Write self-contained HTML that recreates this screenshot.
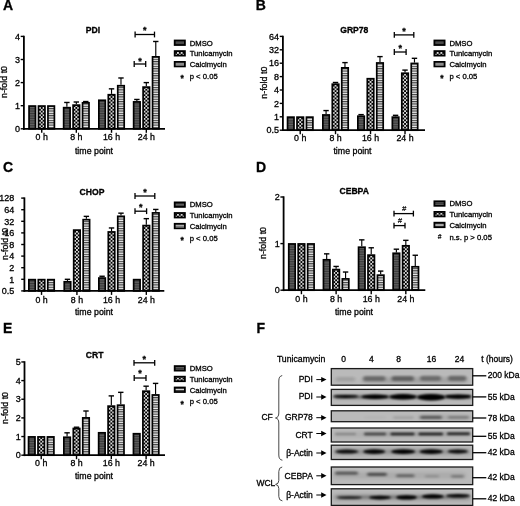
<!DOCTYPE html>
<html><head><meta charset="utf-8"><title>Figure</title>
<style>html,body{margin:0;padding:0;background:#fff;}svg{display:block;opacity:0.999;will-change:transform;}text{font-family:"Liberation Sans",sans-serif;}</style>
</head><body>
<svg width="520" height="506" viewBox="0 0 520 506">
<defs>
<pattern id="pD" width="2" height="1.7" patternUnits="userSpaceOnUse"><rect width="2" height="1.7" fill="#3a3a3a"/><rect width="2" height="0.8" fill="#636363"/></pattern>
<pattern id="pT" width="3.2" height="3.2" patternUnits="userSpaceOnUse"><rect width="3.2" height="3.2" fill="#1a1a1a"/><path d="M1.6 0 L3.2 1.6 L1.6 3.2 L0 1.6 Z" fill="#f4f4f4"/></pattern>
<pattern id="pC" width="2.35" height="2.35" patternUnits="userSpaceOnUse"><rect width="2.35" height="2.35" fill="#ececec"/><rect width="2.35" height="1.15" fill="#404040"/></pattern>
<filter id="bl" x="-20%" y="-100%" width="140%" height="300%"><feGaussianBlur stdDeviation="1.3 0.9"/></filter>
<filter id="bl2" x="-20%" y="-100%" width="140%" height="300%"><feGaussianBlur stdDeviation="1.6 1.3"/></filter>
<filter id="bl3" x="-20%" y="-200%" width="140%" height="500%"><feGaussianBlur stdDeviation="2.2 1.6"/></filter>
</defs>
<rect width="520" height="506" fill="#fff"/>
<text x="3" y="10.3" font-size="14" text-anchor="start" font-weight="bold" fill="#000" stroke="#000" stroke-width="0.3">A</text>
<text x="93" y="32.5" font-size="8.6" text-anchor="middle" font-weight="bold" fill="#000" stroke="#000" stroke-width="0.3">PDI</text>
<rect x="29.05" y="106.05" width="6.45" height="22.75" fill="url(#pD)" stroke="#000" stroke-width="1.7"/>
<pattern id="pT1" x="39.88" y="126.20" width="3.7" height="3.65" patternUnits="userSpaceOnUse"><rect width="3.7" height="3.65" fill="#000"/><rect x="1.000" y="0.975" width="1.7" height="1.7" fill="#fff"/><rect x="-0.850" y="-0.850" width="1.7" height="1.7" fill="#fff"/><rect x="2.850" y="-0.850" width="1.7" height="1.7" fill="#fff"/><rect x="-0.850" y="2.800" width="1.7" height="1.7" fill="#fff"/><rect x="2.850" y="2.800" width="1.7" height="1.7" fill="#fff"/></pattern>
<rect x="38.50" y="106.05" width="6.45" height="22.75" fill="url(#pT1)" stroke="#000" stroke-width="1.7"/>
<rect x="47.95" y="106.05" width="6.45" height="22.75" fill="url(#pC)" stroke="#000" stroke-width="1.7"/>
<line x1="66.88" y1="106.82" x2="66.88" y2="102.47" stroke="#000" stroke-width="1.15"/>
<line x1="64.17" y1="102.47" x2="69.58" y2="102.47" stroke="#000" stroke-width="1.4"/>
<rect x="63.65" y="107.67" width="6.45" height="21.13" fill="url(#pD)" stroke="#000" stroke-width="1.7"/>
<line x1="76.33" y1="104.28" x2="76.33" y2="102.00" stroke="#000" stroke-width="1.15"/>
<line x1="73.62" y1="102.00" x2="79.03" y2="102.00" stroke="#000" stroke-width="1.4"/>
<pattern id="pT2" x="74.48" y="126.20" width="3.7" height="3.65" patternUnits="userSpaceOnUse"><rect width="3.7" height="3.65" fill="#000"/><rect x="1.000" y="0.975" width="1.7" height="1.7" fill="#fff"/><rect x="-0.850" y="-0.850" width="1.7" height="1.7" fill="#fff"/><rect x="2.850" y="-0.850" width="1.7" height="1.7" fill="#fff"/><rect x="-0.850" y="2.800" width="1.7" height="1.7" fill="#fff"/><rect x="2.850" y="2.800" width="1.7" height="1.7" fill="#fff"/></pattern>
<rect x="73.10" y="105.13" width="6.45" height="23.67" fill="url(#pT2)" stroke="#000" stroke-width="1.7"/>
<line x1="85.77" y1="101.97" x2="85.77" y2="101.54" stroke="#000" stroke-width="1.15"/>
<line x1="83.07" y1="101.54" x2="88.47" y2="101.54" stroke="#000" stroke-width="1.4"/>
<rect x="82.55" y="102.82" width="6.45" height="25.98" fill="url(#pC)" stroke="#000" stroke-width="1.7"/>
<rect x="98.85" y="100.28" width="6.45" height="28.52" fill="url(#pD)" stroke="#000" stroke-width="1.7"/>
<line x1="111.53" y1="93.88" x2="111.53" y2="88.84" stroke="#000" stroke-width="1.15"/>
<line x1="108.83" y1="88.84" x2="114.23" y2="88.84" stroke="#000" stroke-width="1.4"/>
<pattern id="pT3" x="109.68" y="126.20" width="3.7" height="3.65" patternUnits="userSpaceOnUse"><rect width="3.7" height="3.65" fill="#000"/><rect x="1.000" y="0.975" width="1.7" height="1.7" fill="#fff"/><rect x="-0.850" y="-0.850" width="1.7" height="1.7" fill="#fff"/><rect x="2.850" y="-0.850" width="1.7" height="1.7" fill="#fff"/><rect x="-0.850" y="2.800" width="1.7" height="1.7" fill="#fff"/><rect x="2.850" y="2.800" width="1.7" height="1.7" fill="#fff"/></pattern>
<rect x="108.30" y="94.73" width="6.45" height="34.07" fill="url(#pT3)" stroke="#000" stroke-width="1.7"/>
<line x1="120.98" y1="84.87" x2="120.98" y2="77.98" stroke="#000" stroke-width="1.15"/>
<line x1="118.28" y1="77.98" x2="123.68" y2="77.98" stroke="#000" stroke-width="1.4"/>
<rect x="117.75" y="85.72" width="6.45" height="43.08" fill="url(#pC)" stroke="#000" stroke-width="1.7"/>
<line x1="136.88" y1="101.04" x2="136.88" y2="99.46" stroke="#000" stroke-width="1.15"/>
<line x1="134.18" y1="99.46" x2="139.57" y2="99.46" stroke="#000" stroke-width="1.4"/>
<rect x="133.65" y="101.89" width="6.45" height="26.91" fill="url(#pD)" stroke="#000" stroke-width="1.7"/>
<line x1="146.32" y1="86.26" x2="146.32" y2="82.60" stroke="#000" stroke-width="1.15"/>
<line x1="143.62" y1="82.60" x2="149.02" y2="82.60" stroke="#000" stroke-width="1.4"/>
<pattern id="pT4" x="144.47" y="126.20" width="3.7" height="3.65" patternUnits="userSpaceOnUse"><rect width="3.7" height="3.65" fill="#000"/><rect x="1.000" y="0.975" width="1.7" height="1.7" fill="#fff"/><rect x="-0.850" y="-0.850" width="1.7" height="1.7" fill="#fff"/><rect x="2.850" y="-0.850" width="1.7" height="1.7" fill="#fff"/><rect x="-0.850" y="2.800" width="1.7" height="1.7" fill="#fff"/><rect x="2.850" y="2.800" width="1.7" height="1.7" fill="#fff"/></pattern>
<rect x="143.10" y="87.11" width="6.45" height="41.69" fill="url(#pT4)" stroke="#000" stroke-width="1.7"/>
<line x1="155.78" y1="56.00" x2="155.78" y2="41.48" stroke="#000" stroke-width="1.15"/>
<line x1="153.08" y1="41.48" x2="158.47" y2="41.48" stroke="#000" stroke-width="1.4"/>
<rect x="152.55" y="56.85" width="6.45" height="71.95" fill="url(#pC)" stroke="#000" stroke-width="1.7"/>
<line x1="23.90" y1="35.70" x2="23.90" y2="129.70" stroke="#000" stroke-width="1.8"/>
<line x1="23.00" y1="128.80" x2="165.00" y2="128.80" stroke="#000" stroke-width="1.8"/>
<line x1="20.70" y1="128.80" x2="23.90" y2="128.80" stroke="#000" stroke-width="1.4"/>
<text x="20.099999999999998" y="132.0" font-size="9.0" text-anchor="end" fill="#000" stroke="#000" stroke-width="0.3">0</text>
<line x1="20.70" y1="105.70" x2="23.90" y2="105.70" stroke="#000" stroke-width="1.4"/>
<text x="20.099999999999998" y="108.90000000000002" font-size="9.0" text-anchor="end" fill="#000" stroke="#000" stroke-width="0.3">1</text>
<line x1="20.70" y1="82.60" x2="23.90" y2="82.60" stroke="#000" stroke-width="1.4"/>
<text x="20.099999999999998" y="85.80000000000001" font-size="9.0" text-anchor="end" fill="#000" stroke="#000" stroke-width="0.3">2</text>
<line x1="20.70" y1="59.50" x2="23.90" y2="59.50" stroke="#000" stroke-width="1.4"/>
<text x="20.099999999999998" y="62.7" font-size="9.0" text-anchor="end" fill="#000" stroke="#000" stroke-width="0.3">3</text>
<line x1="20.70" y1="36.40" x2="23.90" y2="36.40" stroke="#000" stroke-width="1.4"/>
<text x="20.099999999999998" y="39.60000000000001" font-size="9.0" text-anchor="end" fill="#000" stroke="#000" stroke-width="0.3">4</text>
<line x1="41.73" y1="128.80" x2="41.73" y2="132.80" stroke="#000" stroke-width="1.4"/>
<text x="41.725" y="140.2" font-size="8.8" text-anchor="middle" fill="#000" stroke="#000" stroke-width="0.3">0 h</text>
<line x1="76.33" y1="128.80" x2="76.33" y2="132.80" stroke="#000" stroke-width="1.4"/>
<text x="76.325" y="140.2" font-size="8.8" text-anchor="middle" fill="#000" stroke="#000" stroke-width="0.3">8 h</text>
<line x1="111.53" y1="128.80" x2="111.53" y2="132.80" stroke="#000" stroke-width="1.4"/>
<text x="111.525" y="140.2" font-size="8.8" text-anchor="middle" fill="#000" stroke="#000" stroke-width="0.3">16 h</text>
<line x1="146.32" y1="128.80" x2="146.32" y2="132.80" stroke="#000" stroke-width="1.4"/>
<text x="146.325" y="140.2" font-size="8.8" text-anchor="middle" fill="#000" stroke="#000" stroke-width="0.3">24 h</text>
<text x="94" y="153.7" font-size="8.8" text-anchor="middle" fill="#000" stroke="#000" stroke-width="0.3">time point</text>
<text x="7.3" y="82.00000000000001" font-size="8.9" text-anchor="middle" transform="rotate(-90 7.3 82.00000000000001)" fill="#000" stroke="#000" stroke-width="0.3">n-fold t0</text>
<line x1="135.10" y1="34.50" x2="154.50" y2="34.50" stroke="#000" stroke-width="1.3"/>
<line x1="135.10" y1="31.60" x2="135.10" y2="37.40" stroke="#000" stroke-width="1.3"/>
<line x1="154.50" y1="31.60" x2="154.50" y2="37.40" stroke="#000" stroke-width="1.3"/>
<text x="144.8" y="33.4" font-size="9" text-anchor="middle" font-weight="bold" fill="#000" stroke="#000" stroke-width="0.3">*</text>
<line x1="134.20" y1="64.00" x2="145.70" y2="64.00" stroke="#000" stroke-width="1.3"/>
<line x1="134.20" y1="61.10" x2="134.20" y2="66.90" stroke="#000" stroke-width="1.3"/>
<line x1="145.70" y1="61.10" x2="145.70" y2="66.90" stroke="#000" stroke-width="1.3"/>
<text x="139.95" y="63.7" font-size="9" text-anchor="middle" font-weight="bold" fill="#000" stroke="#000" stroke-width="0.3">*</text>
<rect x="174.70" y="40.50" width="10.2" height="4.5" fill="url(#pD)" stroke="#000" stroke-width="1.8"/>
<text x="189.70000000000002" y="45.5" font-size="7.7" text-anchor="start" fill="#000" stroke="#000" stroke-width="0.3">DMSO</text>
<pattern id="pT5" x="177.95" y="52.90" width="3.7" height="3.65" patternUnits="userSpaceOnUse"><rect width="3.7" height="3.65" fill="#000"/><rect x="1.000" y="0.975" width="1.7" height="1.7" fill="#fff"/><rect x="-0.850" y="-0.850" width="1.7" height="1.7" fill="#fff"/><rect x="2.850" y="-0.850" width="1.7" height="1.7" fill="#fff"/><rect x="-0.850" y="2.800" width="1.7" height="1.7" fill="#fff"/><rect x="2.850" y="2.800" width="1.7" height="1.7" fill="#fff"/></pattern>
<rect x="174.70" y="51.10" width="10.2" height="4.5" fill="url(#pT5)" stroke="#000" stroke-width="1.8"/>
<text x="189.70000000000002" y="56.1" font-size="7.7" text-anchor="start" fill="#000" stroke="#000" stroke-width="0.3">Tunicamycin</text>
<rect x="174.70" y="61.90" width="10.2" height="4.5" fill="url(#pC)" stroke="#000" stroke-width="1.8"/>
<text x="189.70000000000002" y="66.9" font-size="7.7" text-anchor="start" fill="#000" stroke="#000" stroke-width="0.3">Calcimycin</text>
<text x="182.10000000000002" y="81.10000000000001" font-size="8.5" text-anchor="middle" font-weight="bold" fill="#000" stroke="#000" stroke-width="0.3">*</text>
<text x="189.70000000000002" y="78.70000000000002" font-size="7.7" text-anchor="start" fill="#000" stroke="#000" stroke-width="0.3">p &lt; 0.05</text>
<text x="255.8" y="10.0" font-size="14" text-anchor="start" font-weight="bold" fill="#000" stroke="#000" stroke-width="0.3">B</text>
<text x="354.3" y="32.8" font-size="8.6" text-anchor="middle" font-weight="bold" fill="#000" stroke="#000" stroke-width="0.3">GRP78</text>
<rect x="287.55" y="117.15" width="6.45" height="13.05" fill="url(#pD)" stroke="#000" stroke-width="1.7"/>
<pattern id="pT6" x="298.37" y="127.60" width="3.7" height="3.65" patternUnits="userSpaceOnUse"><rect width="3.7" height="3.65" fill="#000"/><rect x="1.000" y="0.975" width="1.7" height="1.7" fill="#fff"/><rect x="-0.850" y="-0.850" width="1.7" height="1.7" fill="#fff"/><rect x="2.850" y="-0.850" width="1.7" height="1.7" fill="#fff"/><rect x="-0.850" y="2.800" width="1.7" height="1.7" fill="#fff"/><rect x="2.850" y="2.800" width="1.7" height="1.7" fill="#fff"/></pattern>
<rect x="297.00" y="117.15" width="6.45" height="13.05" fill="url(#pT6)" stroke="#000" stroke-width="1.7"/>
<rect x="306.45" y="117.15" width="6.45" height="13.05" fill="url(#pC)" stroke="#000" stroke-width="1.7"/>
<line x1="326.07" y1="114.11" x2="326.07" y2="110.57" stroke="#000" stroke-width="1.15"/>
<line x1="323.38" y1="110.57" x2="328.77" y2="110.57" stroke="#000" stroke-width="1.4"/>
<rect x="322.85" y="114.96" width="6.45" height="15.24" fill="url(#pD)" stroke="#000" stroke-width="1.7"/>
<line x1="335.52" y1="83.34" x2="335.52" y2="82.49" stroke="#000" stroke-width="1.15"/>
<line x1="332.82" y1="82.49" x2="338.22" y2="82.49" stroke="#000" stroke-width="1.4"/>
<pattern id="pT7" x="333.67" y="127.60" width="3.7" height="3.65" patternUnits="userSpaceOnUse"><rect width="3.7" height="3.65" fill="#000"/><rect x="1.000" y="0.975" width="1.7" height="1.7" fill="#fff"/><rect x="-0.850" y="-0.850" width="1.7" height="1.7" fill="#fff"/><rect x="2.850" y="-0.850" width="1.7" height="1.7" fill="#fff"/><rect x="-0.850" y="2.800" width="1.7" height="1.7" fill="#fff"/><rect x="2.850" y="2.800" width="1.7" height="1.7" fill="#fff"/></pattern>
<rect x="332.30" y="84.19" width="6.45" height="46.01" fill="url(#pT7)" stroke="#000" stroke-width="1.7"/>
<line x1="344.97" y1="67.01" x2="344.97" y2="62.61" stroke="#000" stroke-width="1.15"/>
<line x1="342.27" y1="62.61" x2="347.67" y2="62.61" stroke="#000" stroke-width="1.4"/>
<rect x="341.75" y="67.86" width="6.45" height="62.34" fill="url(#pC)" stroke="#000" stroke-width="1.7"/>
<line x1="361.07" y1="115.36" x2="361.07" y2="114.61" stroke="#000" stroke-width="1.15"/>
<line x1="358.38" y1="114.61" x2="363.77" y2="114.61" stroke="#000" stroke-width="1.4"/>
<rect x="357.85" y="116.21" width="6.45" height="13.99" fill="url(#pD)" stroke="#000" stroke-width="1.7"/>
<pattern id="pT8" x="368.67" y="127.60" width="3.7" height="3.65" patternUnits="userSpaceOnUse"><rect width="3.7" height="3.65" fill="#000"/><rect x="1.000" y="0.975" width="1.7" height="1.7" fill="#fff"/><rect x="-0.850" y="-0.850" width="1.7" height="1.7" fill="#fff"/><rect x="2.850" y="-0.850" width="1.7" height="1.7" fill="#fff"/><rect x="-0.850" y="2.800" width="1.7" height="1.7" fill="#fff"/><rect x="2.850" y="2.800" width="1.7" height="1.7" fill="#fff"/></pattern>
<rect x="367.30" y="78.72" width="6.45" height="51.48" fill="url(#pT8)" stroke="#000" stroke-width="1.7"/>
<line x1="379.97" y1="62.11" x2="379.97" y2="56.61" stroke="#000" stroke-width="1.15"/>
<line x1="377.27" y1="56.61" x2="382.67" y2="56.61" stroke="#000" stroke-width="1.4"/>
<rect x="376.75" y="62.96" width="6.45" height="67.24" fill="url(#pC)" stroke="#000" stroke-width="1.7"/>
<line x1="395.57" y1="116.30" x2="395.57" y2="115.31" stroke="#000" stroke-width="1.15"/>
<line x1="392.88" y1="115.31" x2="398.27" y2="115.31" stroke="#000" stroke-width="1.4"/>
<rect x="392.35" y="117.15" width="6.45" height="13.05" fill="url(#pD)" stroke="#000" stroke-width="1.7"/>
<line x1="405.02" y1="72.38" x2="405.02" y2="70.10" stroke="#000" stroke-width="1.15"/>
<line x1="402.32" y1="70.10" x2="407.72" y2="70.10" stroke="#000" stroke-width="1.4"/>
<pattern id="pT9" x="403.17" y="127.60" width="3.7" height="3.65" patternUnits="userSpaceOnUse"><rect width="3.7" height="3.65" fill="#000"/><rect x="1.000" y="0.975" width="1.7" height="1.7" fill="#fff"/><rect x="-0.850" y="-0.850" width="1.7" height="1.7" fill="#fff"/><rect x="2.850" y="-0.850" width="1.7" height="1.7" fill="#fff"/><rect x="-0.850" y="2.800" width="1.7" height="1.7" fill="#fff"/><rect x="2.850" y="2.800" width="1.7" height="1.7" fill="#fff"/></pattern>
<rect x="401.80" y="73.23" width="6.45" height="56.97" fill="url(#pT9)" stroke="#000" stroke-width="1.7"/>
<line x1="414.47" y1="62.58" x2="414.47" y2="58.31" stroke="#000" stroke-width="1.15"/>
<line x1="411.77" y1="58.31" x2="417.17" y2="58.31" stroke="#000" stroke-width="1.4"/>
<rect x="411.25" y="63.43" width="6.45" height="66.77" fill="url(#pC)" stroke="#000" stroke-width="1.7"/>
<line x1="282.90" y1="35.70" x2="282.90" y2="131.10" stroke="#000" stroke-width="1.8"/>
<line x1="282.00" y1="130.20" x2="425.00" y2="130.20" stroke="#000" stroke-width="1.8"/>
<line x1="279.70" y1="130.20" x2="282.90" y2="130.20" stroke="#000" stroke-width="1.4"/>
<text x="279.09999999999997" y="133.39999999999998" font-size="9.0" text-anchor="end" fill="#000" stroke="#000" stroke-width="0.3">0.5</text>
<line x1="279.70" y1="116.80" x2="282.90" y2="116.80" stroke="#000" stroke-width="1.4"/>
<text x="279.09999999999997" y="120.0" font-size="9.0" text-anchor="end" fill="#000" stroke="#000" stroke-width="0.3">1</text>
<line x1="279.70" y1="103.40" x2="282.90" y2="103.40" stroke="#000" stroke-width="1.4"/>
<text x="279.09999999999997" y="106.6" font-size="9.0" text-anchor="end" fill="#000" stroke="#000" stroke-width="0.3">2</text>
<line x1="279.70" y1="90.00" x2="282.90" y2="90.00" stroke="#000" stroke-width="1.4"/>
<text x="279.09999999999997" y="93.2" font-size="9.0" text-anchor="end" fill="#000" stroke="#000" stroke-width="0.3">4</text>
<line x1="279.70" y1="76.60" x2="282.90" y2="76.60" stroke="#000" stroke-width="1.4"/>
<text x="279.09999999999997" y="79.8" font-size="9.0" text-anchor="end" fill="#000" stroke="#000" stroke-width="0.3">8</text>
<line x1="279.70" y1="63.20" x2="282.90" y2="63.20" stroke="#000" stroke-width="1.4"/>
<text x="279.09999999999997" y="66.39999999999999" font-size="9.0" text-anchor="end" fill="#000" stroke="#000" stroke-width="0.3">16</text>
<line x1="279.70" y1="49.80" x2="282.90" y2="49.80" stroke="#000" stroke-width="1.4"/>
<text x="279.09999999999997" y="53.0" font-size="9.0" text-anchor="end" fill="#000" stroke="#000" stroke-width="0.3">32</text>
<line x1="279.70" y1="36.40" x2="282.90" y2="36.40" stroke="#000" stroke-width="1.4"/>
<text x="279.09999999999997" y="39.599999999999994" font-size="9.0" text-anchor="end" fill="#000" stroke="#000" stroke-width="0.3">64</text>
<line x1="300.22" y1="130.20" x2="300.22" y2="134.20" stroke="#000" stroke-width="1.4"/>
<text x="300.22499999999997" y="140.8" font-size="8.8" text-anchor="middle" fill="#000" stroke="#000" stroke-width="0.3">0 h</text>
<line x1="335.52" y1="130.20" x2="335.52" y2="134.20" stroke="#000" stroke-width="1.4"/>
<text x="335.525" y="140.8" font-size="8.8" text-anchor="middle" fill="#000" stroke="#000" stroke-width="0.3">8 h</text>
<line x1="370.52" y1="130.20" x2="370.52" y2="134.20" stroke="#000" stroke-width="1.4"/>
<text x="370.525" y="140.8" font-size="8.8" text-anchor="middle" fill="#000" stroke="#000" stroke-width="0.3">16 h</text>
<line x1="405.02" y1="130.20" x2="405.02" y2="134.20" stroke="#000" stroke-width="1.4"/>
<text x="405.025" y="140.8" font-size="8.8" text-anchor="middle" fill="#000" stroke="#000" stroke-width="0.3">24 h</text>
<text x="352.5" y="154.2" font-size="8.8" text-anchor="middle" fill="#000" stroke="#000" stroke-width="0.3">time point</text>
<text x="267" y="82.69999999999999" font-size="8.9" text-anchor="middle" transform="rotate(-90 267 82.69999999999999)" fill="#000" stroke="#000" stroke-width="0.3">n-fold t0</text>
<line x1="394.30" y1="34.90" x2="413.80" y2="34.90" stroke="#000" stroke-width="1.3"/>
<line x1="394.30" y1="32.00" x2="394.30" y2="37.80" stroke="#000" stroke-width="1.3"/>
<line x1="413.80" y1="32.00" x2="413.80" y2="37.80" stroke="#000" stroke-width="1.3"/>
<text x="404.05" y="33.6" font-size="9" text-anchor="middle" font-weight="bold" fill="#000" stroke="#000" stroke-width="0.3">*</text>
<line x1="394.30" y1="52.00" x2="406.10" y2="52.00" stroke="#000" stroke-width="1.3"/>
<line x1="394.30" y1="49.10" x2="394.30" y2="54.90" stroke="#000" stroke-width="1.3"/>
<line x1="406.10" y1="49.10" x2="406.10" y2="54.90" stroke="#000" stroke-width="1.3"/>
<text x="400.20000000000005" y="51.2" font-size="9" text-anchor="middle" font-weight="bold" fill="#000" stroke="#000" stroke-width="0.3">*</text>
<rect x="434.40" y="40.50" width="10.2" height="4.5" fill="url(#pD)" stroke="#000" stroke-width="1.8"/>
<text x="449.4" y="45.5" font-size="7.7" text-anchor="start" fill="#000" stroke="#000" stroke-width="0.3">DMSO</text>
<pattern id="pT10" x="437.65" y="52.90" width="3.7" height="3.65" patternUnits="userSpaceOnUse"><rect width="3.7" height="3.65" fill="#000"/><rect x="1.000" y="0.975" width="1.7" height="1.7" fill="#fff"/><rect x="-0.850" y="-0.850" width="1.7" height="1.7" fill="#fff"/><rect x="2.850" y="-0.850" width="1.7" height="1.7" fill="#fff"/><rect x="-0.850" y="2.800" width="1.7" height="1.7" fill="#fff"/><rect x="2.850" y="2.800" width="1.7" height="1.7" fill="#fff"/></pattern>
<rect x="434.40" y="51.10" width="10.2" height="4.5" fill="url(#pT10)" stroke="#000" stroke-width="1.8"/>
<text x="449.4" y="56.1" font-size="7.7" text-anchor="start" fill="#000" stroke="#000" stroke-width="0.3">Tunicamycin</text>
<rect x="434.40" y="61.90" width="10.2" height="4.5" fill="url(#pC)" stroke="#000" stroke-width="1.8"/>
<text x="449.4" y="66.9" font-size="7.7" text-anchor="start" fill="#000" stroke="#000" stroke-width="0.3">Calcimycin</text>
<text x="441.8" y="81.10000000000001" font-size="8.5" text-anchor="middle" font-weight="bold" fill="#000" stroke="#000" stroke-width="0.3">*</text>
<text x="449.4" y="78.70000000000002" font-size="7.7" text-anchor="start" fill="#000" stroke="#000" stroke-width="0.3">p &lt; 0.05</text>
<text x="3" y="171.9" font-size="14" text-anchor="start" font-weight="bold" fill="#000" stroke="#000" stroke-width="0.3">C</text>
<text x="92" y="194.8" font-size="8.6" text-anchor="middle" font-weight="bold" fill="#000" stroke="#000" stroke-width="0.3">CHOP</text>
<rect x="28.85" y="279.65" width="6.45" height="11.25" fill="url(#pD)" stroke="#000" stroke-width="1.7"/>
<pattern id="pT11" x="39.68" y="288.30" width="3.7" height="3.65" patternUnits="userSpaceOnUse"><rect width="3.7" height="3.65" fill="#000"/><rect x="1.000" y="0.975" width="1.7" height="1.7" fill="#fff"/><rect x="-0.850" y="-0.850" width="1.7" height="1.7" fill="#fff"/><rect x="2.850" y="-0.850" width="1.7" height="1.7" fill="#fff"/><rect x="-0.850" y="2.800" width="1.7" height="1.7" fill="#fff"/><rect x="2.850" y="2.800" width="1.7" height="1.7" fill="#fff"/></pattern>
<rect x="38.30" y="279.65" width="6.45" height="11.25" fill="url(#pT11)" stroke="#000" stroke-width="1.7"/>
<rect x="47.75" y="279.65" width="6.45" height="11.25" fill="url(#pC)" stroke="#000" stroke-width="1.7"/>
<line x1="67.47" y1="280.94" x2="67.47" y2="279.30" stroke="#000" stroke-width="1.15"/>
<line x1="64.77" y1="279.30" x2="70.17" y2="279.30" stroke="#000" stroke-width="1.4"/>
<rect x="64.25" y="281.79" width="6.45" height="9.11" fill="url(#pD)" stroke="#000" stroke-width="1.7"/>
<pattern id="pT12" x="75.08" y="288.30" width="3.7" height="3.65" patternUnits="userSpaceOnUse"><rect width="3.7" height="3.65" fill="#000"/><rect x="1.000" y="0.975" width="1.7" height="1.7" fill="#fff"/><rect x="-0.850" y="-0.850" width="1.7" height="1.7" fill="#fff"/><rect x="2.850" y="-0.850" width="1.7" height="1.7" fill="#fff"/><rect x="-0.850" y="2.800" width="1.7" height="1.7" fill="#fff"/><rect x="2.850" y="2.800" width="1.7" height="1.7" fill="#fff"/></pattern>
<rect x="73.70" y="230.11" width="6.45" height="60.79" fill="url(#pT12)" stroke="#000" stroke-width="1.7"/>
<line x1="86.38" y1="218.83" x2="86.38" y2="216.36" stroke="#000" stroke-width="1.15"/>
<line x1="83.67" y1="216.36" x2="89.08" y2="216.36" stroke="#000" stroke-width="1.4"/>
<rect x="83.15" y="219.68" width="6.45" height="71.22" fill="url(#pC)" stroke="#000" stroke-width="1.7"/>
<line x1="102.08" y1="277.20" x2="102.08" y2="276.25" stroke="#000" stroke-width="1.15"/>
<line x1="99.38" y1="276.25" x2="104.78" y2="276.25" stroke="#000" stroke-width="1.4"/>
<rect x="98.85" y="278.05" width="6.45" height="12.85" fill="url(#pD)" stroke="#000" stroke-width="1.7"/>
<line x1="111.53" y1="231.09" x2="111.53" y2="227.96" stroke="#000" stroke-width="1.15"/>
<line x1="108.83" y1="227.96" x2="114.23" y2="227.96" stroke="#000" stroke-width="1.4"/>
<pattern id="pT13" x="109.68" y="288.30" width="3.7" height="3.65" patternUnits="userSpaceOnUse"><rect width="3.7" height="3.65" fill="#000"/><rect x="1.000" y="0.975" width="1.7" height="1.7" fill="#fff"/><rect x="-0.850" y="-0.850" width="1.7" height="1.7" fill="#fff"/><rect x="2.850" y="-0.850" width="1.7" height="1.7" fill="#fff"/><rect x="-0.850" y="2.800" width="1.7" height="1.7" fill="#fff"/><rect x="2.850" y="2.800" width="1.7" height="1.7" fill="#fff"/></pattern>
<rect x="108.30" y="231.94" width="6.45" height="58.96" fill="url(#pT13)" stroke="#000" stroke-width="1.7"/>
<line x1="120.98" y1="215.47" x2="120.98" y2="213.17" stroke="#000" stroke-width="1.15"/>
<line x1="118.28" y1="213.17" x2="123.68" y2="213.17" stroke="#000" stroke-width="1.4"/>
<rect x="117.75" y="216.32" width="6.45" height="74.58" fill="url(#pC)" stroke="#000" stroke-width="1.7"/>
<rect x="133.65" y="279.65" width="6.45" height="11.25" fill="url(#pD)" stroke="#000" stroke-width="1.7"/>
<line x1="146.32" y1="224.73" x2="146.32" y2="218.65" stroke="#000" stroke-width="1.15"/>
<line x1="143.62" y1="218.65" x2="149.02" y2="218.65" stroke="#000" stroke-width="1.4"/>
<pattern id="pT14" x="144.47" y="288.30" width="3.7" height="3.65" patternUnits="userSpaceOnUse"><rect width="3.7" height="3.65" fill="#000"/><rect x="1.000" y="0.975" width="1.7" height="1.7" fill="#fff"/><rect x="-0.850" y="-0.850" width="1.7" height="1.7" fill="#fff"/><rect x="2.850" y="-0.850" width="1.7" height="1.7" fill="#fff"/><rect x="-0.850" y="2.800" width="1.7" height="1.7" fill="#fff"/><rect x="2.850" y="2.800" width="1.7" height="1.7" fill="#fff"/></pattern>
<rect x="143.10" y="225.58" width="6.45" height="65.32" fill="url(#pT14)" stroke="#000" stroke-width="1.7"/>
<line x1="155.78" y1="212.04" x2="155.78" y2="209.44" stroke="#000" stroke-width="1.15"/>
<line x1="153.08" y1="209.44" x2="158.47" y2="209.44" stroke="#000" stroke-width="1.4"/>
<rect x="152.55" y="212.89" width="6.45" height="78.01" fill="url(#pC)" stroke="#000" stroke-width="1.7"/>
<line x1="24.40" y1="197.40" x2="24.40" y2="291.80" stroke="#000" stroke-width="1.8"/>
<line x1="23.50" y1="290.90" x2="164.30" y2="290.90" stroke="#000" stroke-width="1.8"/>
<line x1="21.20" y1="290.90" x2="24.40" y2="290.90" stroke="#000" stroke-width="1.4"/>
<text x="14.2" y="294.1" font-size="9.0" text-anchor="end" fill="#000" stroke="#000" stroke-width="0.3">0.5</text>
<line x1="21.20" y1="279.30" x2="24.40" y2="279.30" stroke="#000" stroke-width="1.4"/>
<text x="14.2" y="282.5" font-size="9.0" text-anchor="end" fill="#000" stroke="#000" stroke-width="0.3">1</text>
<line x1="21.20" y1="267.70" x2="24.40" y2="267.70" stroke="#000" stroke-width="1.4"/>
<text x="14.2" y="270.9" font-size="9.0" text-anchor="end" fill="#000" stroke="#000" stroke-width="0.3">2</text>
<line x1="21.20" y1="256.10" x2="24.40" y2="256.10" stroke="#000" stroke-width="1.4"/>
<text x="14.2" y="259.3" font-size="9.0" text-anchor="end" fill="#000" stroke="#000" stroke-width="0.3">4</text>
<line x1="21.20" y1="244.50" x2="24.40" y2="244.50" stroke="#000" stroke-width="1.4"/>
<text x="14.2" y="247.7" font-size="9.0" text-anchor="end" fill="#000" stroke="#000" stroke-width="0.3">8</text>
<line x1="21.20" y1="232.90" x2="24.40" y2="232.90" stroke="#000" stroke-width="1.4"/>
<text x="14.2" y="236.1" font-size="9.0" text-anchor="end" fill="#000" stroke="#000" stroke-width="0.3">16</text>
<line x1="21.20" y1="221.30" x2="24.40" y2="221.30" stroke="#000" stroke-width="1.4"/>
<text x="14.2" y="224.5" font-size="9.0" text-anchor="end" fill="#000" stroke="#000" stroke-width="0.3">32</text>
<line x1="21.20" y1="209.70" x2="24.40" y2="209.70" stroke="#000" stroke-width="1.4"/>
<text x="14.2" y="212.9" font-size="9.0" text-anchor="end" fill="#000" stroke="#000" stroke-width="0.3">64</text>
<line x1="21.20" y1="198.10" x2="24.40" y2="198.10" stroke="#000" stroke-width="1.4"/>
<text x="14.2" y="201.3" font-size="9.0" text-anchor="end" fill="#000" stroke="#000" stroke-width="0.3">128</text>
<line x1="41.53" y1="290.90" x2="41.53" y2="294.90" stroke="#000" stroke-width="1.4"/>
<text x="41.525000000000006" y="302.6" font-size="8.8" text-anchor="middle" fill="#000" stroke="#000" stroke-width="0.3">0 h</text>
<line x1="76.92" y1="290.90" x2="76.92" y2="294.90" stroke="#000" stroke-width="1.4"/>
<text x="76.925" y="302.6" font-size="8.8" text-anchor="middle" fill="#000" stroke="#000" stroke-width="0.3">8 h</text>
<line x1="111.53" y1="290.90" x2="111.53" y2="294.90" stroke="#000" stroke-width="1.4"/>
<text x="111.525" y="302.6" font-size="8.8" text-anchor="middle" fill="#000" stroke="#000" stroke-width="0.3">16 h</text>
<line x1="146.32" y1="290.90" x2="146.32" y2="294.90" stroke="#000" stroke-width="1.4"/>
<text x="146.325" y="302.6" font-size="8.8" text-anchor="middle" fill="#000" stroke="#000" stroke-width="0.3">24 h</text>
<text x="94" y="314.8" font-size="8.8" text-anchor="middle" fill="#000" stroke="#000" stroke-width="0.3">time point</text>
<text x="7.7" y="243.90000000000003" font-size="8.9" text-anchor="middle" transform="rotate(-90 7.7 243.90000000000003)" fill="#000" stroke="#000" stroke-width="0.3">n-fold t0</text>
<line x1="135.00" y1="196.00" x2="154.80" y2="196.00" stroke="#000" stroke-width="1.3"/>
<line x1="135.00" y1="193.10" x2="135.00" y2="198.90" stroke="#000" stroke-width="1.3"/>
<line x1="154.80" y1="193.10" x2="154.80" y2="198.90" stroke="#000" stroke-width="1.3"/>
<text x="144.9" y="195.29999999999998" font-size="9" text-anchor="middle" font-weight="bold" fill="#000" stroke="#000" stroke-width="0.3">*</text>
<line x1="135.00" y1="211.20" x2="146.60" y2="211.20" stroke="#000" stroke-width="1.3"/>
<line x1="135.00" y1="208.30" x2="135.00" y2="214.10" stroke="#000" stroke-width="1.3"/>
<line x1="146.60" y1="208.30" x2="146.60" y2="214.10" stroke="#000" stroke-width="1.3"/>
<text x="140.8" y="210.29999999999998" font-size="9" text-anchor="middle" font-weight="bold" fill="#000" stroke="#000" stroke-width="0.3">*</text>
<rect x="174.70" y="202.40" width="10.2" height="4.5" fill="url(#pD)" stroke="#000" stroke-width="1.8"/>
<text x="189.70000000000002" y="207.4" font-size="7.7" text-anchor="start" fill="#000" stroke="#000" stroke-width="0.3">DMSO</text>
<pattern id="pT15" x="177.95" y="214.80" width="3.7" height="3.65" patternUnits="userSpaceOnUse"><rect width="3.7" height="3.65" fill="#000"/><rect x="1.000" y="0.975" width="1.7" height="1.7" fill="#fff"/><rect x="-0.850" y="-0.850" width="1.7" height="1.7" fill="#fff"/><rect x="2.850" y="-0.850" width="1.7" height="1.7" fill="#fff"/><rect x="-0.850" y="2.800" width="1.7" height="1.7" fill="#fff"/><rect x="2.850" y="2.800" width="1.7" height="1.7" fill="#fff"/></pattern>
<rect x="174.70" y="213.00" width="10.2" height="4.5" fill="url(#pT15)" stroke="#000" stroke-width="1.8"/>
<text x="189.70000000000002" y="218.0" font-size="7.7" text-anchor="start" fill="#000" stroke="#000" stroke-width="0.3">Tunicamycin</text>
<rect x="174.70" y="223.80" width="10.2" height="4.5" fill="url(#pC)" stroke="#000" stroke-width="1.8"/>
<text x="189.70000000000002" y="228.8" font-size="7.7" text-anchor="start" fill="#000" stroke="#000" stroke-width="0.3">Calcimycin</text>
<text x="182.10000000000002" y="242.99999999999997" font-size="8.5" text-anchor="middle" font-weight="bold" fill="#000" stroke="#000" stroke-width="0.3">*</text>
<text x="189.70000000000002" y="240.6" font-size="7.7" text-anchor="start" fill="#000" stroke="#000" stroke-width="0.3">p &lt; 0.05</text>
<text x="256.1" y="172.0" font-size="14" text-anchor="start" font-weight="bold" fill="#000" stroke="#000" stroke-width="0.3">D</text>
<text x="354.2" y="193.8" font-size="8.6" text-anchor="middle" font-weight="bold" fill="#000" stroke="#000" stroke-width="0.3">CEBPA</text>
<rect x="288.75" y="243.95" width="6.45" height="46.25" fill="url(#pD)" stroke="#000" stroke-width="1.7"/>
<pattern id="pT16" x="299.57" y="287.60" width="3.7" height="3.65" patternUnits="userSpaceOnUse"><rect width="3.7" height="3.65" fill="#000"/><rect x="1.000" y="0.975" width="1.7" height="1.7" fill="#fff"/><rect x="-0.850" y="-0.850" width="1.7" height="1.7" fill="#fff"/><rect x="2.850" y="-0.850" width="1.7" height="1.7" fill="#fff"/><rect x="-0.850" y="2.800" width="1.7" height="1.7" fill="#fff"/><rect x="2.850" y="2.800" width="1.7" height="1.7" fill="#fff"/></pattern>
<rect x="298.20" y="243.95" width="6.45" height="46.25" fill="url(#pT16)" stroke="#000" stroke-width="1.7"/>
<rect x="307.65" y="243.95" width="6.45" height="46.25" fill="url(#pC)" stroke="#000" stroke-width="1.7"/>
<line x1="326.68" y1="258.94" x2="326.68" y2="253.85" stroke="#000" stroke-width="1.15"/>
<line x1="323.98" y1="253.85" x2="329.38" y2="253.85" stroke="#000" stroke-width="1.4"/>
<rect x="323.45" y="259.79" width="6.45" height="30.41" fill="url(#pD)" stroke="#000" stroke-width="1.7"/>
<line x1="336.12" y1="268.73" x2="336.12" y2="266.43" stroke="#000" stroke-width="1.15"/>
<line x1="333.43" y1="266.43" x2="338.82" y2="266.43" stroke="#000" stroke-width="1.4"/>
<pattern id="pT17" x="334.27" y="287.60" width="3.7" height="3.65" patternUnits="userSpaceOnUse"><rect width="3.7" height="3.65" fill="#000"/><rect x="1.000" y="0.975" width="1.7" height="1.7" fill="#fff"/><rect x="-0.850" y="-0.850" width="1.7" height="1.7" fill="#fff"/><rect x="2.850" y="-0.850" width="1.7" height="1.7" fill="#fff"/><rect x="-0.850" y="2.800" width="1.7" height="1.7" fill="#fff"/><rect x="2.850" y="2.800" width="1.7" height="1.7" fill="#fff"/></pattern>
<rect x="332.90" y="269.58" width="6.45" height="20.62" fill="url(#pT17)" stroke="#000" stroke-width="1.7"/>
<line x1="345.57" y1="278.05" x2="345.57" y2="272.03" stroke="#000" stroke-width="1.15"/>
<line x1="342.88" y1="272.03" x2="348.27" y2="272.03" stroke="#000" stroke-width="1.4"/>
<rect x="342.35" y="278.90" width="6.45" height="11.30" fill="url(#pC)" stroke="#000" stroke-width="1.7"/>
<line x1="361.77" y1="246.36" x2="361.77" y2="239.87" stroke="#000" stroke-width="1.15"/>
<line x1="359.07" y1="239.87" x2="364.47" y2="239.87" stroke="#000" stroke-width="1.4"/>
<rect x="358.55" y="247.21" width="6.45" height="42.99" fill="url(#pD)" stroke="#000" stroke-width="1.7"/>
<line x1="371.22" y1="254.28" x2="371.22" y2="247.79" stroke="#000" stroke-width="1.15"/>
<line x1="368.52" y1="247.79" x2="373.92" y2="247.79" stroke="#000" stroke-width="1.4"/>
<pattern id="pT18" x="369.37" y="287.60" width="3.7" height="3.65" patternUnits="userSpaceOnUse"><rect width="3.7" height="3.65" fill="#000"/><rect x="1.000" y="0.975" width="1.7" height="1.7" fill="#fff"/><rect x="-0.850" y="-0.850" width="1.7" height="1.7" fill="#fff"/><rect x="2.850" y="-0.850" width="1.7" height="1.7" fill="#fff"/><rect x="-0.850" y="2.800" width="1.7" height="1.7" fill="#fff"/><rect x="2.850" y="2.800" width="1.7" height="1.7" fill="#fff"/></pattern>
<rect x="368.00" y="255.13" width="6.45" height="35.07" fill="url(#pT18)" stroke="#000" stroke-width="1.7"/>
<line x1="380.67" y1="274.32" x2="380.67" y2="271.09" stroke="#000" stroke-width="1.15"/>
<line x1="377.97" y1="271.09" x2="383.37" y2="271.09" stroke="#000" stroke-width="1.4"/>
<rect x="377.45" y="275.17" width="6.45" height="15.03" fill="url(#pC)" stroke="#000" stroke-width="1.7"/>
<line x1="396.38" y1="252.42" x2="396.38" y2="249.19" stroke="#000" stroke-width="1.15"/>
<line x1="393.68" y1="249.19" x2="399.07" y2="249.19" stroke="#000" stroke-width="1.4"/>
<rect x="393.15" y="253.27" width="6.45" height="36.93" fill="url(#pD)" stroke="#000" stroke-width="1.7"/>
<line x1="405.82" y1="244.96" x2="405.82" y2="240.34" stroke="#000" stroke-width="1.15"/>
<line x1="403.12" y1="240.34" x2="408.52" y2="240.34" stroke="#000" stroke-width="1.4"/>
<pattern id="pT19" x="403.97" y="287.60" width="3.7" height="3.65" patternUnits="userSpaceOnUse"><rect width="3.7" height="3.65" fill="#000"/><rect x="1.000" y="0.975" width="1.7" height="1.7" fill="#fff"/><rect x="-0.850" y="-0.850" width="1.7" height="1.7" fill="#fff"/><rect x="2.850" y="-0.850" width="1.7" height="1.7" fill="#fff"/><rect x="-0.850" y="2.800" width="1.7" height="1.7" fill="#fff"/><rect x="2.850" y="2.800" width="1.7" height="1.7" fill="#fff"/></pattern>
<rect x="402.60" y="245.81" width="6.45" height="44.39" fill="url(#pT19)" stroke="#000" stroke-width="1.7"/>
<line x1="415.27" y1="265.93" x2="415.27" y2="255.25" stroke="#000" stroke-width="1.15"/>
<line x1="412.57" y1="255.25" x2="417.97" y2="255.25" stroke="#000" stroke-width="1.4"/>
<rect x="412.05" y="266.78" width="6.45" height="23.42" fill="url(#pC)" stroke="#000" stroke-width="1.7"/>
<line x1="283.60" y1="196.30" x2="283.60" y2="291.10" stroke="#000" stroke-width="1.8"/>
<line x1="282.70" y1="290.20" x2="425.30" y2="290.20" stroke="#000" stroke-width="1.8"/>
<line x1="280.40" y1="290.20" x2="283.60" y2="290.20" stroke="#000" stroke-width="1.4"/>
<text x="279.8" y="293.4" font-size="9.0" text-anchor="end" fill="#000" stroke="#000" stroke-width="0.3">0</text>
<line x1="280.40" y1="243.60" x2="283.60" y2="243.60" stroke="#000" stroke-width="1.4"/>
<text x="279.8" y="246.79999999999998" font-size="9.0" text-anchor="end" fill="#000" stroke="#000" stroke-width="0.3">1</text>
<line x1="280.40" y1="197.00" x2="283.60" y2="197.00" stroke="#000" stroke-width="1.4"/>
<text x="279.8" y="200.2" font-size="9.0" text-anchor="end" fill="#000" stroke="#000" stroke-width="0.3">2</text>
<line x1="301.42" y1="290.20" x2="301.42" y2="294.20" stroke="#000" stroke-width="1.4"/>
<text x="301.42499999999995" y="301.5" font-size="8.8" text-anchor="middle" fill="#000" stroke="#000" stroke-width="0.3">0 h</text>
<line x1="336.12" y1="290.20" x2="336.12" y2="294.20" stroke="#000" stroke-width="1.4"/>
<text x="336.125" y="301.5" font-size="8.8" text-anchor="middle" fill="#000" stroke="#000" stroke-width="0.3">8 h</text>
<line x1="371.22" y1="290.20" x2="371.22" y2="294.20" stroke="#000" stroke-width="1.4"/>
<text x="371.22499999999997" y="301.5" font-size="8.8" text-anchor="middle" fill="#000" stroke="#000" stroke-width="0.3">16 h</text>
<line x1="405.82" y1="290.20" x2="405.82" y2="294.20" stroke="#000" stroke-width="1.4"/>
<text x="405.825" y="301.5" font-size="8.8" text-anchor="middle" fill="#000" stroke="#000" stroke-width="0.3">24 h</text>
<text x="354" y="314.8" font-size="8.8" text-anchor="middle" fill="#000" stroke="#000" stroke-width="0.3">time point</text>
<text x="266.4" y="243.0" font-size="8.9" text-anchor="middle" transform="rotate(-90 266.4 243.0)" fill="#000" stroke="#000" stroke-width="0.3">n-fold t0</text>
<line x1="394.00" y1="213.60" x2="413.40" y2="213.60" stroke="#000" stroke-width="1.3"/>
<line x1="394.00" y1="210.70" x2="394.00" y2="216.50" stroke="#000" stroke-width="1.3"/>
<line x1="413.40" y1="210.70" x2="413.40" y2="216.50" stroke="#000" stroke-width="1.3"/>
<text x="404.0" y="211.0" font-size="7.6" text-anchor="middle" fill="#000" font-style="italic" stroke="#000" stroke-width="0.2">#</text>
<line x1="394.00" y1="225.60" x2="405.00" y2="225.60" stroke="#000" stroke-width="1.3"/>
<line x1="394.00" y1="222.70" x2="394.00" y2="228.50" stroke="#000" stroke-width="1.3"/>
<line x1="405.00" y1="222.70" x2="405.00" y2="228.50" stroke="#000" stroke-width="1.3"/>
<text x="399.8" y="223.0" font-size="7.6" text-anchor="middle" fill="#000" font-style="italic" stroke="#000" stroke-width="0.2">#</text>
<rect x="434.40" y="201.30" width="10.2" height="4.5" fill="url(#pD)" stroke="#000" stroke-width="1.8"/>
<text x="449.4" y="206.3" font-size="7.7" text-anchor="start" fill="#000" stroke="#000" stroke-width="0.3">DMSO</text>
<pattern id="pT20" x="437.65" y="213.70" width="3.7" height="3.65" patternUnits="userSpaceOnUse"><rect width="3.7" height="3.65" fill="#000"/><rect x="1.000" y="0.975" width="1.7" height="1.7" fill="#fff"/><rect x="-0.850" y="-0.850" width="1.7" height="1.7" fill="#fff"/><rect x="2.850" y="-0.850" width="1.7" height="1.7" fill="#fff"/><rect x="-0.850" y="2.800" width="1.7" height="1.7" fill="#fff"/><rect x="2.850" y="2.800" width="1.7" height="1.7" fill="#fff"/></pattern>
<rect x="434.40" y="211.90" width="10.2" height="4.5" fill="url(#pT20)" stroke="#000" stroke-width="1.8"/>
<text x="449.4" y="216.9" font-size="7.7" text-anchor="start" fill="#000" stroke="#000" stroke-width="0.3">Tunicamycin</text>
<rect x="434.40" y="222.70" width="10.2" height="4.5" fill="url(#pC)" stroke="#000" stroke-width="1.8"/>
<text x="449.4" y="227.70000000000002" font-size="7.7" text-anchor="start" fill="#000" stroke="#000" stroke-width="0.3">Calcimycin</text>
<text x="439.5" y="239.20000000000002" font-size="6.5" text-anchor="middle" fill="#000" font-style="italic" stroke="#000" stroke-width="0.2">#</text>
<text x="449.4" y="239.50000000000003" font-size="7.7" text-anchor="start" fill="#000" stroke="#000" stroke-width="0.3">n.s. p &gt; 0.05</text>
<text x="3.1" y="333.0" font-size="14" text-anchor="start" font-weight="bold" fill="#000" stroke="#000" stroke-width="0.3">E</text>
<text x="94.6" y="358.3" font-size="8.6" text-anchor="middle" font-weight="bold" fill="#000" stroke="#000" stroke-width="0.3">CRT</text>
<rect x="28.55" y="436.90" width="6.45" height="18.30" fill="url(#pD)" stroke="#000" stroke-width="1.7"/>
<pattern id="pT21" x="39.38" y="452.60" width="3.7" height="3.65" patternUnits="userSpaceOnUse"><rect width="3.7" height="3.65" fill="#000"/><rect x="1.000" y="0.975" width="1.7" height="1.7" fill="#fff"/><rect x="-0.850" y="-0.850" width="1.7" height="1.7" fill="#fff"/><rect x="2.850" y="-0.850" width="1.7" height="1.7" fill="#fff"/><rect x="-0.850" y="2.800" width="1.7" height="1.7" fill="#fff"/><rect x="2.850" y="2.800" width="1.7" height="1.7" fill="#fff"/></pattern>
<rect x="38.00" y="436.90" width="6.45" height="18.30" fill="url(#pT21)" stroke="#000" stroke-width="1.7"/>
<rect x="47.45" y="436.90" width="6.45" height="18.30" fill="url(#pC)" stroke="#000" stroke-width="1.7"/>
<line x1="67.08" y1="436.42" x2="67.08" y2="432.82" stroke="#000" stroke-width="1.15"/>
<line x1="64.38" y1="432.82" x2="69.78" y2="432.82" stroke="#000" stroke-width="1.4"/>
<rect x="63.85" y="437.27" width="6.45" height="17.93" fill="url(#pD)" stroke="#000" stroke-width="1.7"/>
<line x1="76.53" y1="427.66" x2="76.53" y2="427.22" stroke="#000" stroke-width="1.15"/>
<line x1="73.83" y1="427.22" x2="79.23" y2="427.22" stroke="#000" stroke-width="1.4"/>
<pattern id="pT22" x="74.68" y="452.60" width="3.7" height="3.65" patternUnits="userSpaceOnUse"><rect width="3.7" height="3.65" fill="#000"/><rect x="1.000" y="0.975" width="1.7" height="1.7" fill="#fff"/><rect x="-0.850" y="-0.850" width="1.7" height="1.7" fill="#fff"/><rect x="2.850" y="-0.850" width="1.7" height="1.7" fill="#fff"/><rect x="-0.850" y="2.800" width="1.7" height="1.7" fill="#fff"/><rect x="2.850" y="2.800" width="1.7" height="1.7" fill="#fff"/></pattern>
<rect x="73.30" y="428.51" width="6.45" height="26.69" fill="url(#pT22)" stroke="#000" stroke-width="1.7"/>
<line x1="85.98" y1="417.03" x2="85.98" y2="411.00" stroke="#000" stroke-width="1.15"/>
<line x1="83.28" y1="411.00" x2="88.68" y2="411.00" stroke="#000" stroke-width="1.4"/>
<rect x="82.75" y="417.88" width="6.45" height="37.32" fill="url(#pC)" stroke="#000" stroke-width="1.7"/>
<rect x="98.65" y="432.80" width="6.45" height="22.40" fill="url(#pD)" stroke="#000" stroke-width="1.7"/>
<line x1="111.33" y1="405.28" x2="111.33" y2="395.89" stroke="#000" stroke-width="1.15"/>
<line x1="108.62" y1="395.89" x2="114.03" y2="395.89" stroke="#000" stroke-width="1.4"/>
<pattern id="pT23" x="109.48" y="452.60" width="3.7" height="3.65" patternUnits="userSpaceOnUse"><rect width="3.7" height="3.65" fill="#000"/><rect x="1.000" y="0.975" width="1.7" height="1.7" fill="#fff"/><rect x="-0.850" y="-0.850" width="1.7" height="1.7" fill="#fff"/><rect x="2.850" y="-0.850" width="1.7" height="1.7" fill="#fff"/><rect x="-0.850" y="2.800" width="1.7" height="1.7" fill="#fff"/><rect x="2.850" y="2.800" width="1.7" height="1.7" fill="#fff"/></pattern>
<rect x="108.10" y="406.13" width="6.45" height="49.07" fill="url(#pT23)" stroke="#000" stroke-width="1.7"/>
<line x1="120.77" y1="404.34" x2="120.77" y2="392.35" stroke="#000" stroke-width="1.15"/>
<line x1="118.07" y1="392.35" x2="123.47" y2="392.35" stroke="#000" stroke-width="1.4"/>
<rect x="117.55" y="405.19" width="6.45" height="50.01" fill="url(#pC)" stroke="#000" stroke-width="1.7"/>
<rect x="133.45" y="433.73" width="6.45" height="21.47" fill="url(#pD)" stroke="#000" stroke-width="1.7"/>
<line x1="146.12" y1="390.36" x2="146.12" y2="386.19" stroke="#000" stroke-width="1.15"/>
<line x1="143.42" y1="386.19" x2="148.82" y2="386.19" stroke="#000" stroke-width="1.4"/>
<pattern id="pT24" x="144.27" y="452.60" width="3.7" height="3.65" patternUnits="userSpaceOnUse"><rect width="3.7" height="3.65" fill="#000"/><rect x="1.000" y="0.975" width="1.7" height="1.7" fill="#fff"/><rect x="-0.850" y="-0.850" width="1.7" height="1.7" fill="#fff"/><rect x="2.850" y="-0.850" width="1.7" height="1.7" fill="#fff"/><rect x="-0.850" y="2.800" width="1.7" height="1.7" fill="#fff"/><rect x="2.850" y="2.800" width="1.7" height="1.7" fill="#fff"/></pattern>
<rect x="142.90" y="391.21" width="6.45" height="63.99" fill="url(#pT24)" stroke="#000" stroke-width="1.7"/>
<line x1="155.57" y1="394.09" x2="155.57" y2="383.40" stroke="#000" stroke-width="1.15"/>
<line x1="152.88" y1="383.40" x2="158.27" y2="383.40" stroke="#000" stroke-width="1.4"/>
<rect x="152.35" y="394.94" width="6.45" height="60.26" fill="url(#pC)" stroke="#000" stroke-width="1.7"/>
<line x1="24.50" y1="361.25" x2="24.50" y2="456.10" stroke="#000" stroke-width="1.8"/>
<line x1="23.60" y1="455.20" x2="165.00" y2="455.20" stroke="#000" stroke-width="1.8"/>
<line x1="21.30" y1="455.20" x2="24.50" y2="455.20" stroke="#000" stroke-width="1.4"/>
<text x="20.7" y="458.4" font-size="9.0" text-anchor="end" fill="#000" stroke="#000" stroke-width="0.3">0</text>
<line x1="21.30" y1="436.55" x2="24.50" y2="436.55" stroke="#000" stroke-width="1.4"/>
<text x="20.7" y="439.75" font-size="9.0" text-anchor="end" fill="#000" stroke="#000" stroke-width="0.3">1</text>
<line x1="21.30" y1="417.90" x2="24.50" y2="417.90" stroke="#000" stroke-width="1.4"/>
<text x="20.7" y="421.09999999999997" font-size="9.0" text-anchor="end" fill="#000" stroke="#000" stroke-width="0.3">2</text>
<line x1="21.30" y1="399.25" x2="24.50" y2="399.25" stroke="#000" stroke-width="1.4"/>
<text x="20.7" y="402.45" font-size="9.0" text-anchor="end" fill="#000" stroke="#000" stroke-width="0.3">3</text>
<line x1="21.30" y1="380.60" x2="24.50" y2="380.60" stroke="#000" stroke-width="1.4"/>
<text x="20.7" y="383.8" font-size="9.0" text-anchor="end" fill="#000" stroke="#000" stroke-width="0.3">4</text>
<line x1="21.30" y1="361.95" x2="24.50" y2="361.95" stroke="#000" stroke-width="1.4"/>
<text x="20.7" y="365.15" font-size="9.0" text-anchor="end" fill="#000" stroke="#000" stroke-width="0.3">5</text>
<line x1="41.23" y1="455.20" x2="41.23" y2="459.20" stroke="#000" stroke-width="1.4"/>
<text x="41.225" y="465.6" font-size="8.8" text-anchor="middle" fill="#000" stroke="#000" stroke-width="0.3">0 h</text>
<line x1="76.53" y1="455.20" x2="76.53" y2="459.20" stroke="#000" stroke-width="1.4"/>
<text x="76.525" y="465.6" font-size="8.8" text-anchor="middle" fill="#000" stroke="#000" stroke-width="0.3">8 h</text>
<line x1="111.33" y1="455.20" x2="111.33" y2="459.20" stroke="#000" stroke-width="1.4"/>
<text x="111.325" y="465.6" font-size="8.8" text-anchor="middle" fill="#000" stroke="#000" stroke-width="0.3">16 h</text>
<line x1="146.12" y1="455.20" x2="146.12" y2="459.20" stroke="#000" stroke-width="1.4"/>
<text x="146.12499999999997" y="465.6" font-size="8.8" text-anchor="middle" fill="#000" stroke="#000" stroke-width="0.3">24 h</text>
<text x="94" y="479.2" font-size="8.8" text-anchor="middle" fill="#000" stroke="#000" stroke-width="0.3">time point</text>
<text x="7.8" y="407.97499999999997" font-size="8.9" text-anchor="middle" transform="rotate(-90 7.8 407.97499999999997)" fill="#000" stroke="#000" stroke-width="0.3">n-fold t0</text>
<line x1="134.00" y1="362.80" x2="154.70" y2="362.80" stroke="#000" stroke-width="1.3"/>
<line x1="134.00" y1="359.90" x2="134.00" y2="365.70" stroke="#000" stroke-width="1.3"/>
<line x1="154.70" y1="359.90" x2="154.70" y2="365.70" stroke="#000" stroke-width="1.3"/>
<text x="144.35" y="361.5" font-size="9" text-anchor="middle" font-weight="bold" fill="#000" stroke="#000" stroke-width="0.3">*</text>
<line x1="134.20" y1="378.00" x2="146.00" y2="378.00" stroke="#000" stroke-width="1.3"/>
<line x1="134.20" y1="375.10" x2="134.20" y2="380.90" stroke="#000" stroke-width="1.3"/>
<line x1="146.00" y1="375.10" x2="146.00" y2="380.90" stroke="#000" stroke-width="1.3"/>
<text x="140.1" y="375.79999999999995" font-size="9" text-anchor="middle" font-weight="bold" fill="#000" stroke="#000" stroke-width="0.3">*</text>
<rect x="174.70" y="366.10" width="10.2" height="4.5" fill="url(#pD)" stroke="#000" stroke-width="1.8"/>
<text x="189.70000000000002" y="371.09999999999997" font-size="7.7" text-anchor="start" fill="#000" stroke="#000" stroke-width="0.3">DMSO</text>
<pattern id="pT25" x="177.95" y="378.50" width="3.7" height="3.65" patternUnits="userSpaceOnUse"><rect width="3.7" height="3.65" fill="#000"/><rect x="1.000" y="0.975" width="1.7" height="1.7" fill="#fff"/><rect x="-0.850" y="-0.850" width="1.7" height="1.7" fill="#fff"/><rect x="2.850" y="-0.850" width="1.7" height="1.7" fill="#fff"/><rect x="-0.850" y="2.800" width="1.7" height="1.7" fill="#fff"/><rect x="2.850" y="2.800" width="1.7" height="1.7" fill="#fff"/></pattern>
<rect x="174.70" y="376.70" width="10.2" height="4.5" fill="url(#pT25)" stroke="#000" stroke-width="1.8"/>
<text x="189.70000000000002" y="381.7" font-size="7.7" text-anchor="start" fill="#000" stroke="#000" stroke-width="0.3">Tunicamycin</text>
<rect x="174.70" y="387.50" width="10.2" height="4.5" fill="url(#pC)" stroke="#000" stroke-width="1.8"/>
<text x="189.70000000000002" y="392.49999999999994" font-size="7.7" text-anchor="start" fill="#000" stroke="#000" stroke-width="0.3">Calcimycin</text>
<text x="182.10000000000002" y="406.7" font-size="8.5" text-anchor="middle" font-weight="bold" fill="#000" stroke="#000" stroke-width="0.3">*</text>
<text x="189.70000000000002" y="404.29999999999995" font-size="7.7" text-anchor="start" fill="#000" stroke="#000" stroke-width="0.3">p &lt; 0.05</text>
<text x="256.6" y="333.1" font-size="14" text-anchor="start" font-weight="bold" fill="#000" stroke="#000" stroke-width="0.3">F</text>
<text x="276.9" y="362.3" font-size="8.7" text-anchor="start" fill="#000" stroke="#000" stroke-width="0.3">Tunicamycin</text>
<text x="343.7" y="362.3" font-size="8.5" text-anchor="middle" fill="#000" stroke="#000" stroke-width="0.3">0</text>
<text x="371.4" y="362.3" font-size="8.5" text-anchor="middle" fill="#000" stroke="#000" stroke-width="0.3">4</text>
<text x="398.6" y="362.3" font-size="8.5" text-anchor="middle" fill="#000" stroke="#000" stroke-width="0.3">8</text>
<text x="431.5" y="362.3" font-size="8.5" text-anchor="middle" fill="#000" stroke="#000" stroke-width="0.3">16</text>
<text x="459.4" y="362.3" font-size="8.5" text-anchor="middle" fill="#000" stroke="#000" stroke-width="0.3">24</text>
<text x="481.2" y="362.3" font-size="8.5" text-anchor="start" fill="#000" stroke="#000" stroke-width="0.3">t (hours)</text>
<clipPath id="c0"><rect x="331.3" y="368.6" width="141.39999999999998" height="16.599999999999966"/></clipPath>
<rect x="331.3" y="368.6" width="141.39999999999998" height="16.599999999999966" fill="#bababa"/>
<g clip-path="url(#c0)">
<rect x="362.0" y="377.20" width="105.0" height="6.00" rx="3.00" fill="#000" opacity="0.13" filter="url(#bl3)"/>
<rect x="334.0" y="377.50" width="22.0" height="5.00" rx="2.50" fill="#000" opacity="0.05" filter="url(#bl3)"/>
<rect x="336.0" y="377.00" width="19.0" height="4.00" rx="2.00" fill="#000" opacity="0.09" filter="url(#bl2)"/>
<rect x="363.0" y="376.10" width="22.5" height="5.00" rx="2.50" fill="#000" opacity="0.36" filter="url(#bl2)"/>
<rect x="391.5" y="375.90" width="22.5" height="5.00" rx="2.50" fill="#000" opacity="0.42" filter="url(#bl2)"/>
<rect x="420.0" y="375.70" width="21.0" height="5.00" rx="2.50" fill="#000" opacity="0.36" filter="url(#bl2)"/>
<rect x="448.0" y="375.70" width="18.5" height="5.00" rx="2.50" fill="#000" opacity="0.38" filter="url(#bl2)"/>
</g>
<rect x="331.3" y="368.6" width="141.39999999999998" height="16.599999999999966" fill="none" stroke="#1a1a1a" stroke-width="1.3"/>
<line x1="472.70" y1="375.80" x2="486.30" y2="375.80" stroke="#000" stroke-width="1.3"/>
<text x="487.8" y="378.0" font-size="8.5" text-anchor="start" fill="#000" stroke="#000" stroke-width="0.3">200 kDa</text>
<text x="312.8" y="382.0" font-size="8.5" text-anchor="end" fill="#000" stroke="#000" stroke-width="0.3">PDI</text>
<line x1="316.30" y1="379.60" x2="322.50" y2="379.60" stroke="#000" stroke-width="1.0"/>
<path d="M321.2 376.90 L326.5 379.60 L321.2 382.30 Z" fill="#000"/>
<clipPath id="c1"><rect x="331.3" y="389.4" width="141.39999999999998" height="16.0"/></clipPath>
<rect x="331.3" y="389.4" width="141.39999999999998" height="16.0" fill="#bababa"/>
<g clip-path="url(#c1)">
<rect x="335.0" y="396.10" width="136.0" height="1.60" rx="0.80" fill="#000" opacity="0.7" filter="url(#bl3)"/>
<rect x="334.0" y="394.00" width="138.0" height="6.00" rx="3.00" fill="#000" opacity="0.08" filter="url(#bl3)"/>
<ellipse cx="345.5" cy="396.40" rx="12.5" ry="1.50" fill="#000" opacity="0.95" filter="url(#bl)"/>
<ellipse cx="375.0" cy="396.80" rx="13.5" ry="2.20" fill="#000" opacity="1.0" filter="url(#bl)"/>
<ellipse cx="403.0" cy="396.80" rx="13.5" ry="2.70" fill="#000" opacity="1.0" filter="url(#bl)"/>
<ellipse cx="431.2" cy="397.20" rx="13.8" ry="3.20" fill="#000" opacity="1.0" filter="url(#bl)"/>
<ellipse cx="458.2" cy="396.60" rx="13.2" ry="2.10" fill="#000" opacity="1.0" filter="url(#bl)"/>
</g>
<rect x="331.3" y="389.4" width="141.39999999999998" height="16.0" fill="none" stroke="#1a1a1a" stroke-width="1.3"/>
<line x1="472.70" y1="396.90" x2="486.30" y2="396.90" stroke="#000" stroke-width="1.3"/>
<text x="487.8" y="399.5" font-size="8.5" text-anchor="start" fill="#000" stroke="#000" stroke-width="0.3">55 kDa</text>
<text x="312.8" y="399.4" font-size="8.5" text-anchor="end" fill="#000" stroke="#000" stroke-width="0.3">PDI</text>
<line x1="316.30" y1="397.00" x2="322.50" y2="397.00" stroke="#000" stroke-width="1.0"/>
<path d="M321.2 394.30 L326.5 397.00 L321.2 399.70 Z" fill="#000"/>
<clipPath id="c2"><rect x="331.3" y="410.8" width="141.39999999999998" height="10.899999999999977"/></clipPath>
<rect x="331.3" y="410.8" width="141.39999999999998" height="10.899999999999977" fill="#bababa"/>
<g clip-path="url(#c2)">
<rect x="418.0" y="415.10" width="52.0" height="5.00" rx="2.50" fill="#000" opacity="0.08" filter="url(#bl3)"/>
<rect x="364.0" y="416.60" width="22.0" height="2.00" rx="1.00" fill="#000" opacity="0.04" filter="url(#bl2)"/>
<rect x="393.0" y="416.30" width="21.0" height="2.60" rx="1.30" fill="#000" opacity="0.13" filter="url(#bl2)"/>
<rect x="420.0" y="415.70" width="22.0" height="3.20" rx="1.60" fill="#000" opacity="0.48" filter="url(#bl2)"/>
<rect x="448.0" y="415.90" width="21.0" height="2.80" rx="1.40" fill="#000" opacity="0.28" filter="url(#bl2)"/>
</g>
<rect x="331.3" y="410.8" width="141.39999999999998" height="10.899999999999977" fill="none" stroke="#1a1a1a" stroke-width="1.3"/>
<line x1="472.70" y1="418.00" x2="486.30" y2="418.00" stroke="#000" stroke-width="1.3"/>
<text x="487.8" y="420.5" font-size="8.5" text-anchor="start" fill="#000" stroke="#000" stroke-width="0.3">78 kDa</text>
<text x="312.8" y="420.4" font-size="8.5" text-anchor="end" fill="#000" stroke="#000" stroke-width="0.3">GRP78</text>
<line x1="316.30" y1="417.70" x2="322.50" y2="417.70" stroke="#000" stroke-width="1.0"/>
<path d="M321.2 415.00 L326.5 417.70 L321.2 420.40 Z" fill="#000"/>
<clipPath id="c3"><rect x="331.3" y="428.0" width="141.39999999999998" height="14.0"/></clipPath>
<rect x="331.3" y="428.0" width="141.39999999999998" height="14.0" fill="#bababa"/>
<g clip-path="url(#c3)">
<rect x="364.0" y="433.30" width="106.0" height="1.40" rx="0.70" fill="#000" opacity="0.22" filter="url(#bl3)"/>
<rect x="334.0" y="431.50" width="137.0" height="6.00" rx="3.00" fill="#000" opacity="0.06" filter="url(#bl3)"/>
<rect x="335.0" y="433.00" width="21.0" height="2.00" rx="1.00" fill="#000" opacity="0.25" filter="url(#bl)"/>
<rect x="364.0" y="432.80" width="22.0" height="2.40" rx="1.20" fill="#000" opacity="0.6" filter="url(#bl)"/>
<rect x="390.5" y="432.70" width="24.0" height="2.60" rx="1.30" fill="#000" opacity="0.82" filter="url(#bl)"/>
<rect x="418.5" y="432.70" width="24.5" height="2.60" rx="1.30" fill="#000" opacity="0.85" filter="url(#bl)"/>
<rect x="447.0" y="432.50" width="23.0" height="2.60" rx="1.30" fill="#000" opacity="0.82" filter="url(#bl)"/>
</g>
<rect x="331.3" y="428.0" width="141.39999999999998" height="14.0" fill="none" stroke="#1a1a1a" stroke-width="1.3"/>
<line x1="472.70" y1="436.30" x2="486.30" y2="436.30" stroke="#000" stroke-width="1.3"/>
<text x="487.8" y="439.2" font-size="8.5" text-anchor="start" fill="#000" stroke="#000" stroke-width="0.3">55 kDa</text>
<text x="312.8" y="437.7" font-size="8.5" text-anchor="end" fill="#000" stroke="#000" stroke-width="0.3">CRT</text>
<line x1="316.30" y1="433.50" x2="322.50" y2="433.50" stroke="#000" stroke-width="1.0"/>
<path d="M321.2 430.80 L326.5 433.50 L321.2 436.20 Z" fill="#000"/>
<clipPath id="c4"><rect x="331.3" y="445.2" width="141.39999999999998" height="14.300000000000011"/></clipPath>
<rect x="331.3" y="445.2" width="141.39999999999998" height="14.300000000000011" fill="#bababa"/>
<g clip-path="url(#c4)">
<rect x="334.0" y="450.90" width="136.0" height="1.40" rx="0.70" fill="#000" opacity="0.35" filter="url(#bl3)"/>
<rect x="333.0" y="448.00" width="138.0" height="8.00" rx="4.00" fill="#000" opacity="0.1" filter="url(#bl3)"/>
<ellipse cx="346.8" cy="451.60" rx="11.8" ry="2.00" fill="#000" opacity="0.92" filter="url(#bl)"/>
<ellipse cx="374.2" cy="451.60" rx="11.2" ry="2.30" fill="#000" opacity="0.97" filter="url(#bl)"/>
<ellipse cx="403.2" cy="451.60" rx="12.2" ry="2.40" fill="#000" opacity="1.0" filter="url(#bl)"/>
<ellipse cx="431.2" cy="451.60" rx="11.8" ry="2.30" fill="#000" opacity="0.97" filter="url(#bl)"/>
<ellipse cx="457.8" cy="451.40" rx="10.2" ry="2.00" fill="#000" opacity="0.92" filter="url(#bl)"/>
</g>
<rect x="331.3" y="445.2" width="141.39999999999998" height="14.300000000000011" fill="none" stroke="#1a1a1a" stroke-width="1.3"/>
<line x1="472.70" y1="452.70" x2="486.30" y2="452.70" stroke="#000" stroke-width="1.3"/>
<text x="487.8" y="454.8" font-size="8.5" text-anchor="start" fill="#000" stroke="#000" stroke-width="0.3">42 kDa</text>
<text x="312.8" y="456.2" font-size="8.5" text-anchor="end" fill="#000" stroke="#000" stroke-width="0.3">&#946;-Actin</text>
<line x1="316.30" y1="453.00" x2="322.50" y2="453.00" stroke="#000" stroke-width="1.0"/>
<path d="M321.2 450.30 L326.5 453.00 L321.2 455.70 Z" fill="#000"/>
<clipPath id="c5"><rect x="331.3" y="467.0" width="141.39999999999998" height="17.600000000000023"/></clipPath>
<rect x="331.3" y="467.0" width="141.39999999999998" height="17.600000000000023" fill="#bababa"/>
<g clip-path="url(#c5)">
<rect x="333.0" y="472.00" width="133.0" height="7.00" rx="3.50" fill="#000" opacity="0.07" filter="url(#bl3)"/>
<rect x="335.0" y="471.60" width="23.0" height="3.20" rx="1.60" fill="#000" opacity="0.5" filter="url(#bl2)"/>
<rect x="367.0" y="472.70" width="20.0" height="3.20" rx="1.60" fill="#000" opacity="0.55" filter="url(#bl2)"/>
<rect x="396.0" y="474.20" width="18.5" height="3.00" rx="1.50" fill="#000" opacity="0.42" filter="url(#bl2)"/>
<rect x="425.0" y="475.00" width="14.0" height="2.60" rx="1.30" fill="#000" opacity="0.17" filter="url(#bl2)"/>
<rect x="451.0" y="474.90" width="13.0" height="2.80" rx="1.40" fill="#000" opacity="0.3" filter="url(#bl2)"/>
</g>
<rect x="331.3" y="467.0" width="141.39999999999998" height="17.600000000000023" fill="none" stroke="#1a1a1a" stroke-width="1.3"/>
<line x1="472.70" y1="477.70" x2="486.30" y2="477.70" stroke="#000" stroke-width="1.3"/>
<text x="487.8" y="479.8" font-size="8.5" text-anchor="start" fill="#000" stroke="#000" stroke-width="0.3">42 kDa</text>
<text x="312.8" y="479.2" font-size="8.5" text-anchor="end" fill="#000" stroke="#000" stroke-width="0.3">CEBPA</text>
<line x1="316.30" y1="475.80" x2="322.50" y2="475.80" stroke="#000" stroke-width="1.0"/>
<path d="M321.2 473.10 L326.5 475.80 L321.2 478.50 Z" fill="#000"/>
<clipPath id="c6"><rect x="331.3" y="488.8" width="141.39999999999998" height="16.599999999999966"/></clipPath>
<rect x="331.3" y="488.8" width="141.39999999999998" height="16.599999999999966" fill="#bababa"/>
<g clip-path="url(#c6)">
<rect x="336.0" y="496.40" width="133.0" height="1.60" rx="0.80" fill="#000" opacity="0.55" filter="url(#bl3)"/>
<rect x="333.0" y="493.50" width="138.0" height="8.00" rx="4.00" fill="#000" opacity="0.1" filter="url(#bl3)"/>
<ellipse cx="349.5" cy="497.60" rx="12.5" ry="1.10" fill="#000" opacity="0.9" filter="url(#bl)"/>
<ellipse cx="380.0" cy="497.60" rx="11.0" ry="1.80" fill="#000" opacity="0.97" filter="url(#bl)"/>
<ellipse cx="406.5" cy="497.40" rx="10.5" ry="2.20" fill="#000" opacity="1.0" filter="url(#bl)"/>
<ellipse cx="432.8" cy="496.40" rx="11.2" ry="2.10" fill="#000" opacity="1.0" filter="url(#bl)"/>
<ellipse cx="458.0" cy="495.80" rx="12.0" ry="1.80" fill="#000" opacity="0.97" filter="url(#bl)"/>
</g>
<rect x="331.3" y="488.8" width="141.39999999999998" height="16.599999999999966" fill="none" stroke="#1a1a1a" stroke-width="1.3"/>
<line x1="472.70" y1="498.80" x2="486.30" y2="498.80" stroke="#000" stroke-width="1.3"/>
<text x="487.8" y="501.0" font-size="8.5" text-anchor="start" fill="#000" stroke="#000" stroke-width="0.3">42 kDa</text>
<text x="312.8" y="497.9" font-size="8.5" text-anchor="end" fill="#000" stroke="#000" stroke-width="0.3">&#946;-Actin</text>
<line x1="316.30" y1="495.00" x2="322.50" y2="495.00" stroke="#000" stroke-width="1.0"/>
<path d="M321.2 492.30 L326.5 495.00 L321.2 497.70 Z" fill="#000"/>
<text x="261.4" y="420.4" font-size="8.5" text-anchor="start" fill="#000" stroke="#000" stroke-width="0.3">CF</text>
<path d="M282.2 375.6 Q278.8 376 278.8 381 L278.8 413 Q278.8 417.6 275.5 418 Q278.8 418.4 278.8 423 L278.8 455 Q278.8 459.8 282.4 460.2" fill="none" stroke="#333" stroke-width="0.9"/>
<text x="256.4" y="486.3" font-size="8.5" text-anchor="start" fill="#000" stroke="#000" stroke-width="0.3">WCL</text>
<path d="M282.2 467 Q278.8 467.3 278.8 471.5 L278.8 480.5 Q278.8 484 275.6 484.4 Q278.8 484.8 278.8 488.5 L278.8 496.5 Q278.8 500.5 282.4 500.9" fill="none" stroke="#333" stroke-width="0.9"/>
</svg>
</body></html>
